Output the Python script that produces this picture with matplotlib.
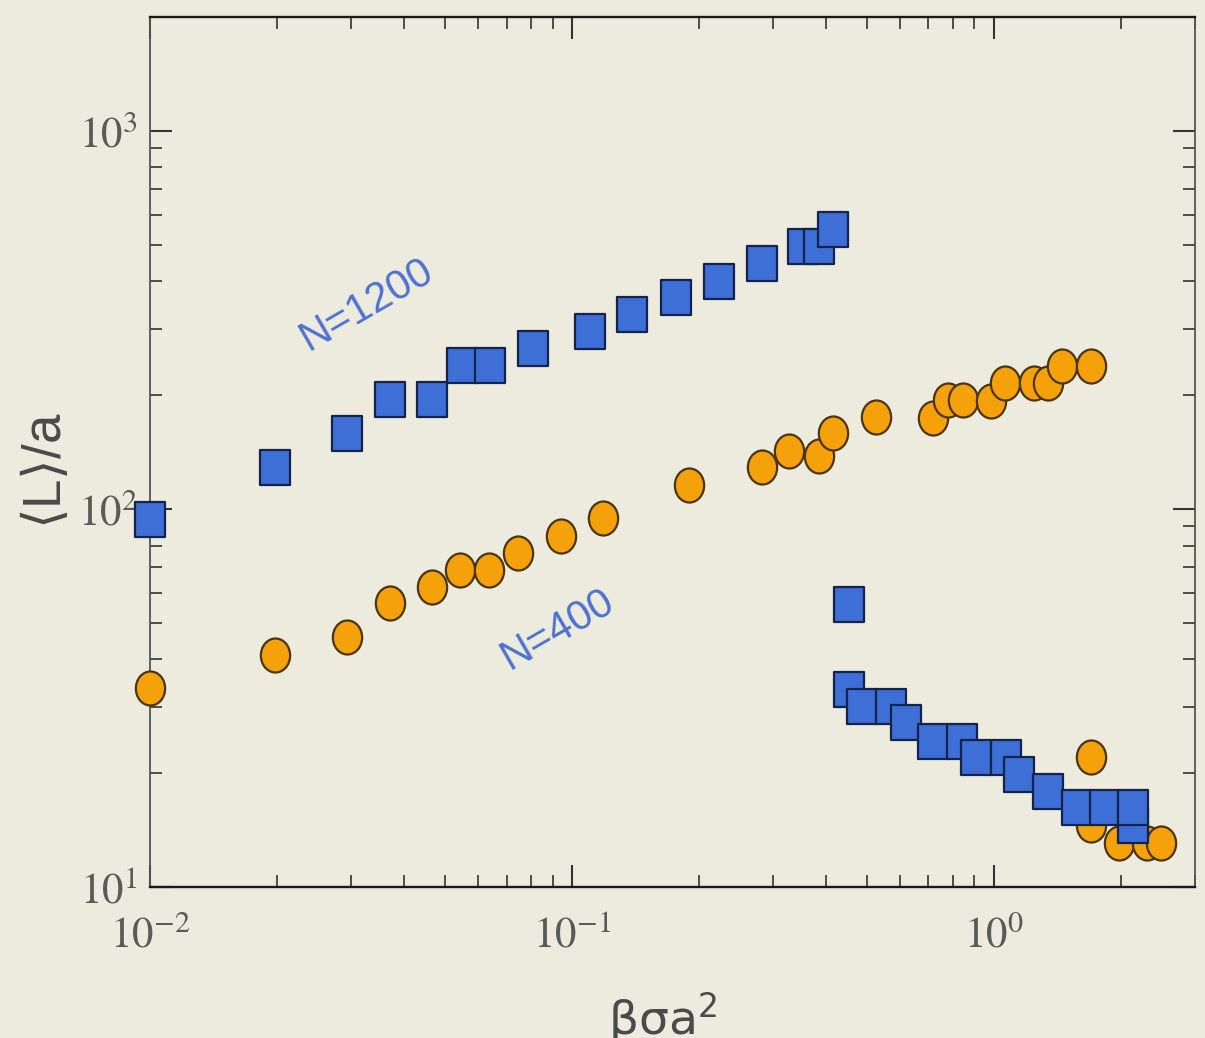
import numpy as np
import matplotlib
matplotlib.use("Agg")
import matplotlib.pyplot as plt
from matplotlib.path import Path
from matplotlib.ticker import LogLocator, NullFormatter, FuncFormatter

plt.rcParams['mathtext.fontset'] = 'stix'

# Mean chain length <L>/a versus beta*sigma*a^2
beta_1200 = [0.01, 0.0198, 0.0293, 0.0371, 0.0467, 0.055, 0.064, 0.081, 0.1107,
             0.139, 0.177, 0.2227, 0.283, 0.354, 0.385, 0.415,
             0.453, 0.453, 0.486, 0.570, 0.618, 0.717, 0.84, 0.906, 1.067,
             1.146, 1.342, 1.574, 1.834, 2.136, 2.136]
L_1200 = [94, 129, 159, 195, 195, 240, 240, 267, 296,
          328, 364, 401, 448, 497, 497, 551,
          56.1, 33.4, 30.1, 30.1, 27.3, 24.3, 24.3, 22.1, 22.1,
          19.9, 17.9, 16.3, 16.3, 14.6, 16.3]

beta_400 = [0.01, 0.0198, 0.0293, 0.0371, 0.0467, 0.0544, 0.0637, 0.0746, 0.0944,
            0.1188, 0.190, 0.2817, 0.328, 0.385, 0.415, 0.525, 0.717, 0.778,
            0.844, 0.984, 1.062, 1.245, 1.343, 1.45, 1.70,
            1.70, 1.70, 1.98, 2.307, 2.49]
L_400 = [33.6, 41.1, 45.8, 56.4, 62.2, 69.0, 69.0, 76.5, 84.8,
         94.6, 115.8, 129, 142.4, 138, 159, 175, 174, 194,
         194, 193, 215, 215, 215, 239, 239,
         22.1, 14.6, 13.1, 13.1, 13.1]

label_1200 = "N=1200"
label_400 = "N=400"

bg = '#ECEBDD'
blue = '#3D6FD6'
orange = '#F5A10A'

# slightly narrow marker shapes
rect = Path([(-0.43, -0.5), (0.43, -0.5), (0.43, 0.5), (-0.43, 0.5), (-0.43, -0.5)],
            [Path.MOVETO, Path.LINETO, Path.LINETO, Path.LINETO, Path.CLOSEPOLY])
uc = Path.unit_circle()
oval = Path(uc.vertices * np.array([0.86, 1.0]), uc.codes)

fig = plt.figure(figsize=(12.05, 10.38), dpi=100, facecolor=bg)
ax = fig.add_axes([0.1245, 0.1455, 0.8672, 0.8381])
ax.set_facecolor(bg)

ax.plot(beta_400, L_400, linestyle='none', marker=oval, markersize=24.5,
        markerfacecolor=orange, markeredgecolor='#4a3510', markeredgewidth=1.6,
        clip_on=False, zorder=3)
ax.plot(beta_1200, L_1200, linestyle='none', marker=rect, markersize=25.2,
        markerfacecolor=blue, markeredgecolor='#15224a', markeredgewidth=1.6,
        clip_on=False, zorder=4)

ax.set_xscale('log')
ax.set_yscale('log')
ax.set_xlim(0.01, 3.0)
ax.set_ylim(10, 2000)

for axis in (ax.xaxis, ax.yaxis):
    axis.set_major_locator(LogLocator(base=10, numticks=10))
    axis.set_minor_locator(LogLocator(base=10, subs=np.arange(2, 10), numticks=100))
    axis.set_minor_formatter(NullFormatter())
    axis.set_major_formatter(FuncFormatter(lambda v, p: r'$10^{%d}$' % int(round(np.log10(v)))))

ax.tick_params(which='both', direction='in', top=True, right=True,
               colors='#333333', labelcolor='#5a5a5a', labelsize=31)
ax.tick_params(which='major', length=16, width=1.5)
ax.tick_params(which='minor', length=8.5, width=1.2)
ax.tick_params(axis='x', which='major', pad=20)
ax.tick_params(axis='y', which='major', pad=9)

for side in ('top', 'bottom'):
    ax.spines[side].set_color('#1a1a1a')
    ax.spines[side].set_linewidth(1.7)
for side in ('left', 'right'):
    ax.spines[side].set_color('#555555')
    ax.spines[side].set_linewidth(1.3)

ax.set_ylabel(r'$\langle$L$\rangle$/a', fontsize=38, color='#4a4a4a',
              family='Liberation Sans', math_fontfamily='dejavusans')
ax.yaxis.set_label_coords(-0.075, 0.479)
ax.set_xlabel(r'$\mathregular{βσa^{2}}$', fontsize=34, color='#4a4a4a',
              family='DejaVu Sans', math_fontfamily='dejavusans', va='top')
ax.xaxis.set_label_coords(0.49, -0.118)

ax.text(0.0327, 346, label_1200, rotation=30, color='#4d72d2', fontsize=30,
        family='Liberation Sans', ha='center', va='center')
ax.text(0.0924, 47.9, label_400, rotation=30, color='#4d72d2', fontsize=30,
        family='Liberation Sans', ha='center', va='center')

fig.savefig('out.png', dpi=100, facecolor=bg)
